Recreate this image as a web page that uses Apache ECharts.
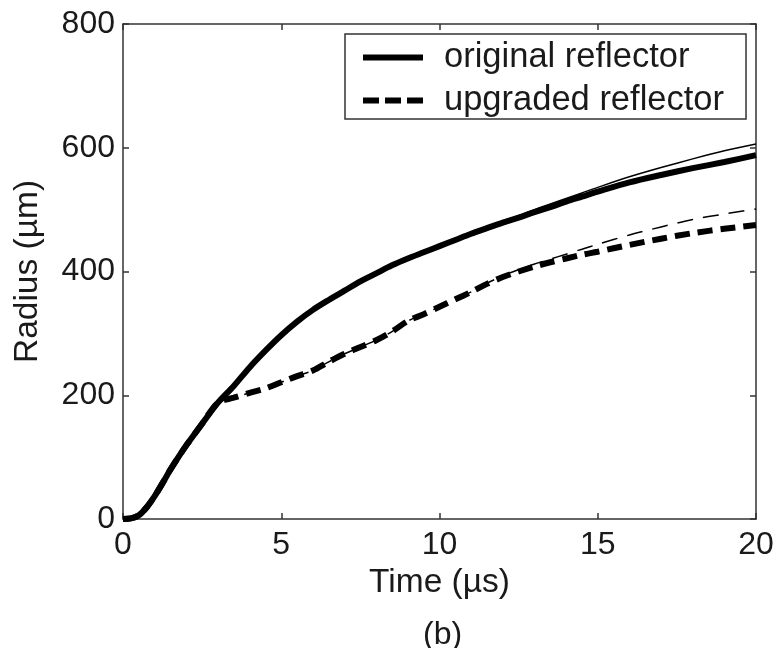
<!DOCTYPE html>
<html>
<head>
<meta charset="utf-8">
<script src="https://cdn.jsdelivr.net/npm/echarts@6/dist/echarts.min.js"></script>
<style>
  html, body { margin: 0; padding: 0; background: #fff; }
  #chart { width: 780px; height: 648px; }
</style>
</head>
<body>
<div id="chart"></div>
<script>
// Time samples (µs)
var times = [0, 0.25, 0.5, 0.75, 1, 1.25, 1.5, 1.75, 2, 2.5, 3, 3.5, 4, 4.5, 5, 5.5, 6, 6.5, 7, 7.5,
             8, 8.5, 9, 9.5, 10, 10.5, 11, 11.5, 12, 12.5, 13, 13.5, 14, 14.5, 15, 16, 17, 18, 19, 20];

// Shock radius (µm), original reflector — thick and thin traces
var originalThick = [0, 1, 6, 19, 37, 58, 80, 100, 119, 154, 188, 215, 245, 272, 297, 319, 338, 354, 369, 384,
                     397, 410, 421, 431, 441, 451, 461, 470, 479, 487, 496, 504, 513, 521, 529, 544, 556, 567, 577, 588];
var originalThin  = [0, 1, 6, 19, 37, 58, 80, 100, 119, 154, 188, 215, 245, 272, 297, 319, 338, 354, 369, 384,
                     397, 410, 421, 431, 441, 451, 461, 470, 480, 490, 500, 509, 518, 527, 536, 553, 568, 582, 595, 606];

// Shock radius (µm), upgraded reflector — thick and thin traces
var upgradedThick = [0, 1, 6, 19, 37, 58, 80, 100, 119, 154, 188, 196, 204, 211, 221, 231, 240, 254, 267, 278,
                     289, 303, 320, 331, 343, 355, 367, 380, 391, 400, 408, 415, 421, 427, 432, 443, 453, 462, 469, 475];
var upgradedThin  = [0, 1, 6, 19, 37, 58, 80, 100, 119, 154, 188, 196, 204, 211, 221, 231, 240, 254, 267, 278,
                     289, 303, 320, 331, 343, 355, 367, 381, 393, 403, 412, 420, 428, 436, 444, 459, 472, 484, 493, 501];

var seriesNames = ['original reflector', 'upgraded reflector'];
var xTicks = [0, 5, 10, 15, 20];
var yTicks = [0, 200, 400, 600, 800];

function pairs(values) {
  return times.map(function (t, i) { return [t, values[i]]; });
}

var FONT = "'Liberation Sans', Arial, Helvetica, sans-serif";
var INK = '#1a1a1a';
var AXIS = '#333';

// Legend swatches: a solid bar and a three-dash bar
var SOLID_ICON = 'path://M0,0H60V6H0Z';
var DASH_ICON = 'path://M0,0H16V6H0Z M22,0H38V6H22Z M44,0H60V6H44Z';

var chart = echarts.init(document.getElementById('chart'), null, { renderer: 'canvas' });

var baseX = {
  type: 'value', min: xTicks[0], max: xTicks[xTicks.length - 1], interval: xTicks[1] - xTicks[0],
  axisLine: { show: true, onZero: false, lineStyle: { color: AXIS, width: 1.5 } },
  axisTick: { show: true, inside: true, length: 6, lineStyle: { color: AXIS, width: 1.5 } },
  splitLine: { show: false }
};
var baseY = {
  type: 'value', min: yTicks[0], max: yTicks[yTicks.length - 1], interval: yTicks[1] - yTicks[0],
  axisLine: { show: true, onZero: false, lineStyle: { color: AXIS, width: 1.5 } },
  axisTick: { show: true, inside: true, length: 6, lineStyle: { color: AXIS, width: 1.5 } },
  splitLine: { show: false }
};

var option = {
  backgroundColor: '#fff',
  animation: false,
  color: ['#000', '#000', '#000', '#000'],
  textStyle: { fontFamily: FONT, color: INK },
  grid: { left: 123, right: 24, top: 24, bottom: 129 },
  xAxis: [
    Object.assign({}, baseX, {
      position: 'bottom',
      name: 'Time (µs)', nameLocation: 'middle', nameGap: 46,
      nameTextStyle: { fontFamily: FONT, fontSize: 33.5, color: INK },
      axisLabel: { show: true, margin: 10, fontFamily: FONT, fontSize: 32, color: INK }
    }),
    Object.assign({}, baseX, { position: 'top', axisLabel: { show: false } })
  ],
  yAxis: [
    Object.assign({}, baseY, {
      position: 'left',
      name: 'Radius (µm)', nameLocation: 'middle', nameGap: 78,
      nameTextStyle: { fontFamily: FONT, fontSize: 33.5, color: INK },
      axisLabel: { show: true, margin: 8, fontFamily: FONT, fontSize: 32, color: INK }
    }),
    Object.assign({}, baseY, { position: 'right', axisLabel: { show: false } })
  ],
  legend: {
    data: [
      { name: seriesNames[0], icon: SOLID_ICON, itemStyle: { color: '#000', borderWidth: 0 } },
      { name: seriesNames[1], icon: DASH_ICON, itemStyle: { color: '#000', borderWidth: 0 } }
    ],
    orient: 'vertical',
    left: 345, top: 34,
    padding: [6, 22, 1, 18],
    itemGap: 8,
    itemWidth: 60, itemHeight: 6,
    backgroundColor: '#fff',
    borderColor: AXIS, borderWidth: 1.5, borderRadius: 0,
    textStyle: { fontFamily: FONT, fontSize: 34.5, color: INK, lineHeight: 33, padding: [0, 0, 0, 16] }
  },
  graphic: [{
    type: 'text', left: 423, top: 619,
    style: { text: '(b)', fontFamily: FONT, fontSize: 32, fill: INK }
  }],
  series: [
    {
      name: 'original reflector (fine)', type: 'line', data: pairs(originalThin),
      symbol: 'none', smooth: 0.3, z: 2,
      lineStyle: { color: '#000', width: 1.5 }
    },
    {
      name: 'upgraded reflector (fine)', type: 'line', data: pairs(upgradedThin),
      symbol: 'none', smooth: 0.3, z: 2,
      lineStyle: { color: '#000', width: 1.5, type: [16, 10], cap: 'butt' }
    },
    {
      name: seriesNames[0], type: 'line', data: pairs(originalThick),
      symbol: 'none', smooth: 0.3, z: 3,
      itemStyle: { color: '#000' },
      lineStyle: { color: '#000', width: 6 }
    },
    {
      name: seriesNames[1], type: 'line', data: pairs(upgradedThick),
      symbol: 'none', smooth: 0.3, z: 3,
      itemStyle: { color: '#000' },
      lineStyle: { color: '#000', width: 6, type: [15, 8], cap: 'butt' }
    }
  ]
};

chart.setOption(option);
</script>
</body>
</html>
